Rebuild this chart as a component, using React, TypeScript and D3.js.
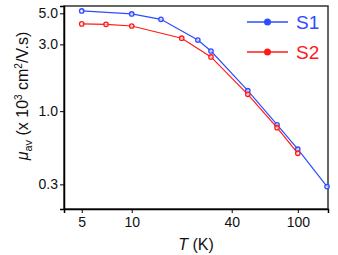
import React, { useEffect, useRef } from "react";
import * as d3 from "d3";

// temperature (K) and average mobility (x 10^3 cm^2/V.s)
const s1T = [5, 10, 15, 25, 30, 50, 75, 100, 150];
const s1Mu = [5.2, 4.95, 4.53, 3.22, 2.69, 1.4, 0.8, 0.535, 0.289];
const s2T = [5, 7, 10, 20, 30, 50, 75, 100];
const s2Mu = [4.2, 4.17, 4.06, 3.32, 2.44, 1.32, 0.762, 0.5];

const xTicks = [5, 10, 40, 100];
const xMinor = [6, 7, 8, 9, 20, 30, 50, 60, 70, 80, 90];
const yTicks = [0.3, 1, 3, 5];
const yMinor = [0.4, 0.5, 0.6, 0.7, 0.8, 0.9, 2];

const BLUE = "#2e4cff";
const RED = "#ff1a1a";
const FONT = "'Liberation Sans', Arial, sans-serif";

const App: React.FC = () => {
  const svgRef = useRef<SVGSVGElement | null>(null);

  useEffect(() => {
    const width = 338;
    const height = 255;
    const m = { top: 6, right: 10, bottom: 46, left: 64 };

    const svg = d3.select(svgRef.current).attr("width", width).attr("height", height);
    svg.selectAll("*").remove();

    const x = d3.scaleLog().domain([3.91, 152]).range([m.left, width - m.right]);
    const y = d3.scaleLog().domain([0.2, 5.64]).range([height - m.bottom, m.top]);

    // frame (top / right)
    svg
      .append("rect")
      .attr("x", m.left)
      .attr("y", m.top)
      .attr("width", width - m.right - m.left)
      .attr("height", height - m.bottom - m.top)
      .attr("fill", "none")
      .attr("stroke", "#333")
      .attr("stroke-width", 1.5);

    // bottom axis
    const gx = svg.append("g").attr("transform", `translate(0,${height - m.bottom})`);
    gx.call(d3.axisBottom(x).tickValues(xMinor).tickSize(2).tickFormat(() => ""));
    gx.call(
      d3
        .axisBottom(x)
        .tickValues(xTicks)
        .tickSize(4)
        .tickPadding(4)
        .tickFormat((d) => String(d))
    );
    gx.selectAll(".domain").attr("stroke", "#000").attr("stroke-width", 1.5);
    gx.selectAll("text")
      .style("font-family", FONT)
      .style("font-size", "14px")
      .attr("fill", "#111");

    // left axis
    const gy = svg.append("g").attr("transform", `translate(${m.left},0)`);
    gy.call(d3.axisLeft(y).tickValues(yMinor).tickSize(2).tickFormat(() => ""));
    gy.call(
      d3
        .axisLeft(y)
        .tickValues(yTicks)
        .tickSize(4)
        .tickPadding(2)
        .tickFormat(d3.format(".1f") as any)
    );
    gy.selectAll(".domain").attr("stroke", "#000").attr("stroke-width", 1.5);
    gy.selectAll("text")
      .style("font-family", FONT)
      .style("font-size", "14px")
      .attr("fill", "#111");

    const line = d3
      .line<[number, number]>()
      .x((d) => x(d[0]))
      .y((d) => y(d[1]));

    const series = [
      { t: s1T, mu: s1Mu, color: BLUE },
      { t: s2T, mu: s2Mu, color: RED },
    ];

    series.forEach((s) => {
      const pts = s.t.map((t, i) => [t, s.mu[i]] as [number, number]);
      svg
        .append("path")
        .attr("d", line(pts))
        .attr("fill", "none")
        .attr("stroke", s.color)
        .attr("stroke-width", 1.2);
      svg
        .append("g")
        .selectAll("circle")
        .data(pts)
        .join("circle")
        .attr("cx", (d) => x(d[0]))
        .attr("cy", (d) => y(d[1]))
        .attr("r", 2.2)
        .attr("fill", "#fff")
        .attr("fill-opacity", 0.6)
        .attr("stroke", s.color)
        .attr("stroke-width", 1.3);
    });

    // legend
    const legend = [
      { name: "S1", color: BLUE, y: 22 },
      { name: "S2", color: RED, y: 52 },
    ];
    legend.forEach((l) => {
      svg
        .append("line")
        .attr("x1", 247)
        .attr("x2", 288)
        .attr("y1", l.y)
        .attr("y2", l.y)
        .attr("stroke", l.color)
        .attr("stroke-width", 1.5);
      svg.append("circle").attr("cx", 267.5).attr("cy", l.y).attr("r", 3.5).attr("fill", l.color);
      svg
        .append("text")
        .attr("x", 296)
        .attr("y", l.y + 7)
        .attr("fill", l.color)
        .style("font-family", FONT)
        .style("font-size", "19px")
        .text(l.name);
    });

    // x title
    const xt = svg
      .append("text")
      .attr("x", 196)
      .attr("y", 250)
      .attr("text-anchor", "middle")
      .attr("fill", "#111")
      .style("font-family", FONT)
      .style("font-size", "16px");
    xt.append("tspan").attr("font-style", "italic").text("T");
    xt.append("tspan").text(" (K)");

    // y title
    const yt = svg
      .append("text")
      .attr("transform", "translate(28,96) rotate(-90)")
      .attr("text-anchor", "middle")
      .attr("fill", "#111")
      .style("font-family", FONT)
      .style("font-size", "16px");
    yt.append("tspan").attr("font-style", "italic").text("μ");
    yt.append("tspan").attr("font-size", "11px").attr("dy", 4).text("av");
    yt.append("tspan").attr("dy", -4).text(" (x 10");
    yt.append("tspan").attr("font-size", "10px").attr("dy", -6).text("3");
    yt.append("tspan").attr("dy", 6).text(" cm");
    yt.append("tspan").attr("font-size", "10px").attr("dy", -6).text("2");
    yt.append("tspan").attr("dy", 6).text("/V.s)");
  }, []);

  return (
    <svg
      ref={svgRef}
      style={{ position: "absolute", left: 0, top: 0, background: "#fff" }}
    ></svg>
  );
};

export default App;
